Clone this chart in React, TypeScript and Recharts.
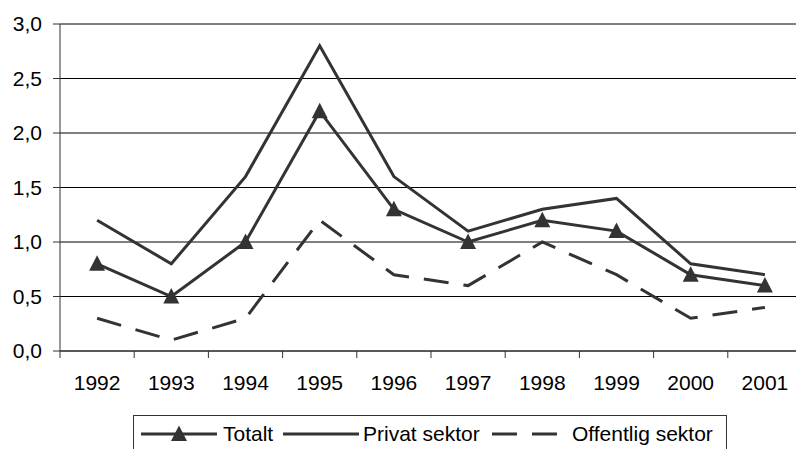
import React from 'react';
import { LineChart, Line, XAxis, YAxis, CartesianGrid } from 'recharts';

const years = ['1992', '1993', '1994', '1995', '1996', '1997', '1998', '1999', '2000', '2001'];
const totalt = [0.8, 0.5, 1.0, 2.2, 1.3, 1.0, 1.2, 1.1, 0.7, 0.6];
const privat = [1.2, 0.8, 1.6, 2.8, 1.6, 1.1, 1.3, 1.4, 0.8, 0.7];
const offentlig = [0.3, 0.1, 0.3, 1.2, 0.7, 0.6, 1.0, 0.7, 0.3, 0.4];
const yTicks = [0, 0.5, 1, 1.5, 2, 2.5, 3];

const data = years.map((year, i) => ({
    year,
    totalt: totalt[i],
    privat: privat[i],
    offentlig: offentlig[i],
}));

const CHART_W = 802;
const Y_W = 60;
const BAND = (CHART_W - Y_W) / years.length;
const FONT = '"Liberation Sans", Arial, sans-serif';
const FONT_SIZE = 21;
const INK = '#333';

// ticks sit between the categories, labels in the middle
function XTick({ x, y, payload }: any) {
    const left = x - BAND / 2;
    return (
        <g>
            <line x1={left} y1={y - 7} x2={left} y2={y} stroke={INK} strokeWidth={1} />
            <text x={x} y={y + 32} textAnchor="middle" fill="#000" fontSize={FONT_SIZE} fontFamily={FONT}>
                {payload.value}
            </text>
        </g>
    );
}

function Triangle({ cx, cy }: any) {
    if (cx == null || cy == null) return null;
    return <polygon points={`${cx},${cy - 8.5} ${cx + 8},${cy + 7} ${cx - 8},${cy + 7}`} fill={INK} />;
}

const item = (left: number): React.CSSProperties => ({
    position: 'absolute',
    left,
    top: 0,
    height: 36,
    display: 'flex',
    alignItems: 'center',
});

function LegendBox() {
    return (
        <div
            style={{
                position: 'absolute',
                left: 133,
                top: 415,
                width: 594,
                height: 37,
                boxSizing: 'border-box',
                border: `1px solid ${INK}`,
                borderBottom: 'none',
                fontFamily: FONT,
                fontSize: FONT_SIZE,
                color: '#000',
                whiteSpace: 'nowrap',
            }}
        >
            <div style={item(7)}>
                <svg width={76} height={20}>
                    <line x1={0} y1={10} x2={76} y2={10} stroke={INK} strokeWidth={3} />
                    <polygon points="38,1.5 46,17 30,17" fill={INK} />
                </svg>
            </div>
            <div style={item(89)}>Totalt</div>
            <div style={item(149)}>
                <svg width={76} height={20}>
                    <line x1={0} y1={10} x2={76} y2={10} stroke={INK} strokeWidth={3} />
                </svg>
            </div>
            <div style={item(229)}>Privat sektor</div>
            <div style={item(358)}>
                <svg width={65} height={20}>
                    <line x1={0} y1={10} x2={65} y2={10} stroke={INK} strokeWidth={3} strokeDasharray="25 15" />
                </svg>
            </div>
            <div style={item(438)}>Offentlig sektor</div>
        </div>
    );
}

export default function App() {
    return (
        <div style={{ position: 'absolute', left: 0, top: 0, width: 796, height: 449, overflow: 'hidden', background: '#fff' }}>
            <LineChart width={CHART_W} height={449} data={data} margin={{ top: 24, right: 0, left: 0, bottom: 58 }}>
                <CartesianGrid vertical={false} stroke="#000" strokeWidth={1} />
                <XAxis
                    dataKey="year"
                    interval={0}
                    height={40}
                    padding={{ left: BAND / 2, right: BAND / 2 }}
                    tickLine={false}
                    tickSize={7}
                    tickMargin={0}
                    axisLine={{ stroke: INK }}
                    tick={<XTick />}
                />
                <YAxis
                    width={Y_W}
                    domain={[0, 3]}
                    ticks={yTicks}
                    interval={0}
                    tickSize={7}
                    tickMargin={11}
                    axisLine={{ stroke: INK }}
                    tickLine={{ stroke: INK }}
                    tick={{ fill: '#000', fontSize: FONT_SIZE, fontFamily: FONT }}
                    tickFormatter={(v: number) => v.toFixed(1).replace('.', ',')}
                />
                <Line
                    type="linear"
                    dataKey="offentlig"
                    stroke={INK}
                    strokeWidth={3}
                    strokeDasharray="25 15"
                    dot={false}
                    isAnimationActive={false}
                />
                <Line type="linear" dataKey="privat" stroke={INK} strokeWidth={3} dot={false} isAnimationActive={false} />
                <Line
                    type="linear"
                    dataKey="totalt"
                    stroke={INK}
                    strokeWidth={3}
                    dot={(p: any) => <Triangle key={p.index} {...p} />}
                    isAnimationActive={false}
                />
            </LineChart>
            <LegendBox />
        </div>
    );
}
